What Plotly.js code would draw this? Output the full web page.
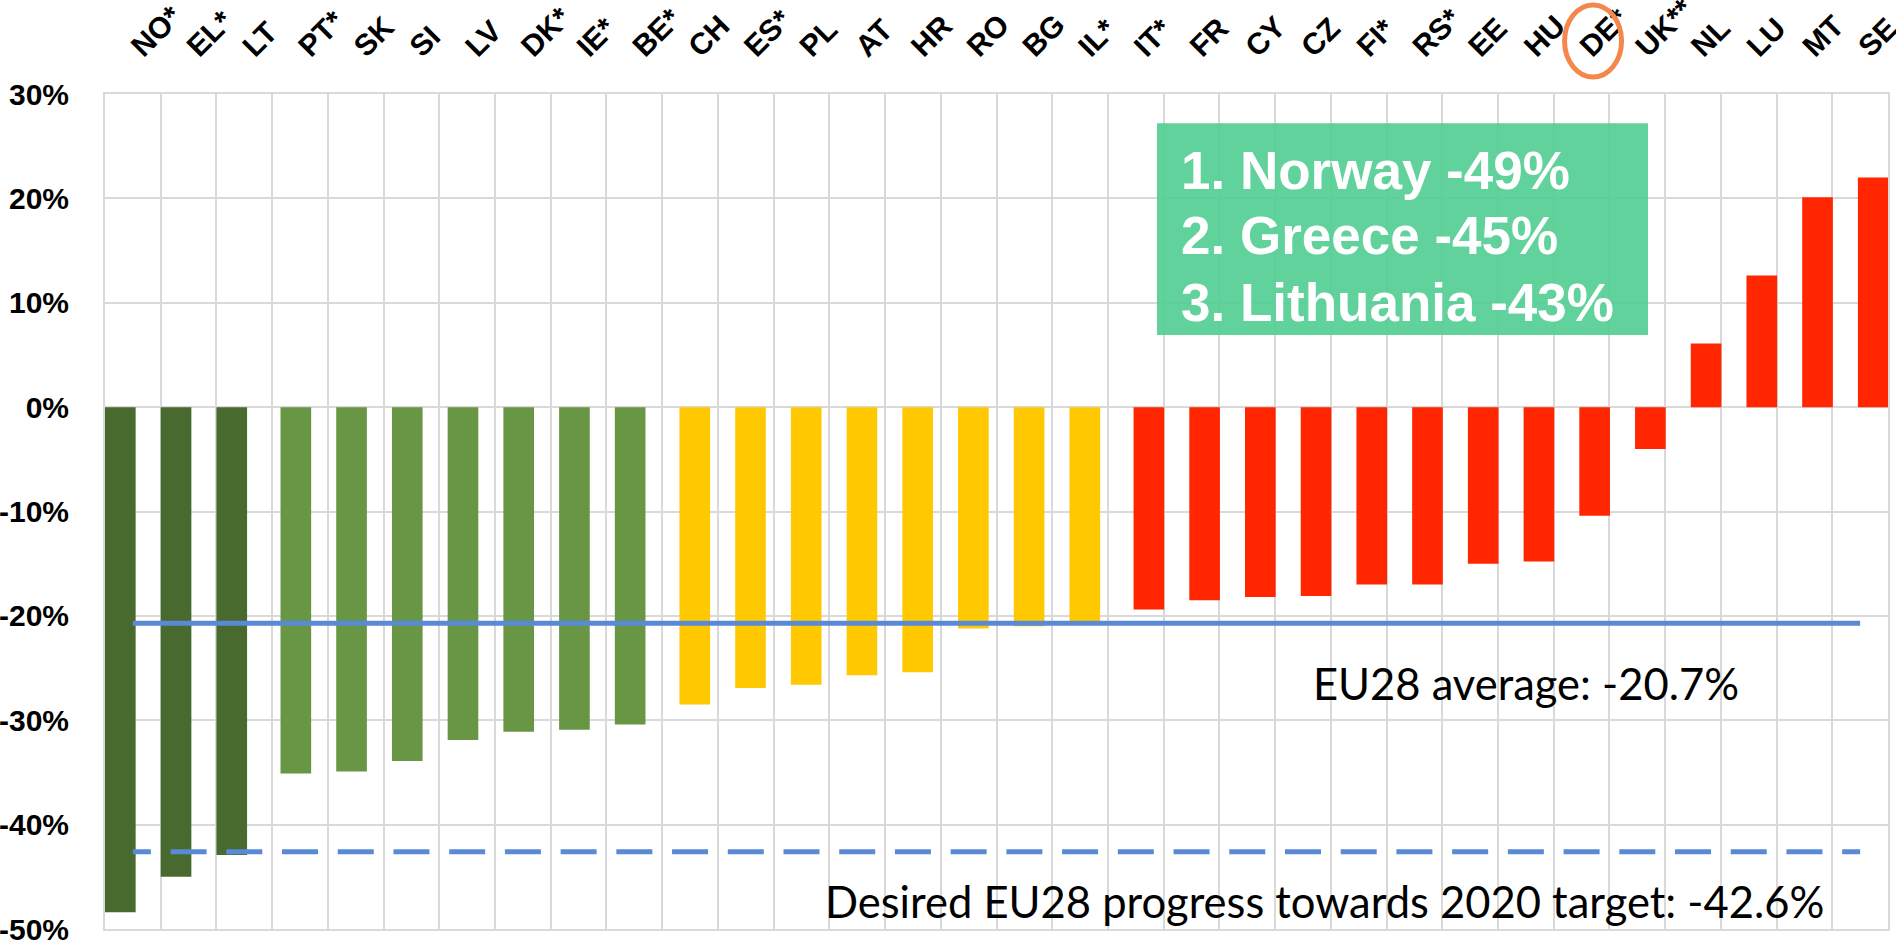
<!DOCTYPE html>
<html>
<head>
<meta charset="utf-8">
<script src="https://cdn.plot.ly/plotly-3.0.1.min.js"></script>
<style>
  html, body { margin: 0; padding: 0; background: #ffffff; }
  #chart { width: 1896px; height: 951px; }
</style>
</head>
<body>
<div id="chart"></div>
<script>
// ---- data ----
var categories = ["NO","EL","LT","PT","SK","SI","LV","DK","IE","BE","CH","ES","PL","AT","HR","RO","BG","IL","IT","FR","CY","CZ","FI","RS","EE","HU","DE","UK","NL","LU","MT","SE"];
var tickLabels = ["NO*","EL*","LT","PT*","SK","SI","LV","DK*","IE*","BE*","CH","ES*","PL","AT","HR","RO","BG","IL*","IT*","FR","CY","CZ","FI*","RS*","EE","HU","DE*","UK**","NL","LU","MT","SE"];
var values = [-48.4,-45.0,-42.9,-35.1,-34.9,-33.9,-31.9,-31.1,-30.9,-30.4,-28.5,-26.9,-26.6,-25.7,-25.4,-21.2,-21.0,-20.8,-19.4,-18.5,-18.2,-18.1,-17.0,-17.0,-15.0,-14.8,-10.4,-4.0,6.1,12.6,20.1,22.0];
var tiers = ["top","top","top","good","good","good","good","good","good","good","mid","mid","mid","mid","mid","mid","mid","mid","low","low","low","low","low","low","low","low","low","low","low","low","low","low"];
var yTickVals = [30, 20, 10, 0, -10, -20, -30, -40, -50];
var yTickLabels = ["30%","20%","10%","0%","-10%","-20%","-30%","-40%","-50%"];
var euAverage = -20.7;
var euTarget2020 = -42.6;
var rankingLines = ["1. Norway -49%","2. Greece -45%","3. Lithuania -43%"];
var averageLabel = "EU28 average: -20.7%";
var targetLabel = "Desired EU28 progress towards 2020 target: -42.6%";
var highlighted = "DE";

// ---- styles ----
var tierStyle = {
  top:  {color: "#486a2e", offset: -0.50},
  good: {color: "#689645", offset: -0.35},
  mid:  {color: "#ffc800", offset: -0.19},
  low:  {color: "#ff2600", offset: -0.04}
};
var barWidth = 0.55;
var lineColor = "#5a8ad6";

// dash pattern: dashes centred on each category centre (half dash at the start)
var catPx = (1896 - 105 - 8) / categories.length;
var dashLen = 36, gapLen = catPx - dashLen;
var dashParts = [(dashLen / 2) + "px", gapLen.toFixed(2) + "px"];
for (var k = 0; k < categories.length; k++) { dashParts.push(dashLen + "px", gapLen.toFixed(2) + "px"); }
var dashPattern = dashParts.join(",");

var traces = [];
Object.keys(tierStyle).forEach(function (t) {
  var xs = [], ys = [];
  categories.forEach(function (c, i) {
    if (tiers[i] === t) { xs.push(c); ys.push(values[i]); }
  });
  traces.push({
    type: "bar", x: xs, y: ys,
    width: barWidth, offset: tierStyle[t].offset,
    marker: {color: tierStyle[t].color, line: {width: 0}},
    hoverinfo: "x+y", showlegend: false
  });
});
var first = categories[0], last = categories[categories.length - 1];
traces.push({
  type: "scatter", mode: "lines", x: [first, last], y: [euAverage, euAverage],
  line: {color: lineColor, width: 5}, showlegend: false, hoverinfo: "skip"
});
traces.push({
  type: "scatter", mode: "lines", x: [first, last], y: [euTarget2020, euTarget2020],
  line: {color: lineColor, width: 5, dash: dashPattern}, showlegend: false, hoverinfo: "skip"
});

var boldArial = "Liberation Sans, Arial, sans-serif";

var annotations = [
  {xref: "paper", yref: "paper", x: 0.797, y: 0.2946, xanchor: "center", yanchor: "middle",
   showarrow: false, text: averageLabel,
   font: {family: "Lato, sans-serif", size: 43.5, color: "#000000"}},
  {xref: "paper", yref: "paper", x: 0.6837, y: 0.0335, xanchor: "center", yanchor: "middle",
   showarrow: false, text: targetLabel,
   font: {family: "Lato, sans-serif", size: 43.5, color: "#000000"}}
];
var rankY = [0.908, 0.830, 0.750];
rankingLines.forEach(function (txt, i) {
  annotations.push({xref: "paper", yref: "paper", x: 0.6025, y: rankY[i], xanchor: "left", yanchor: "middle",
    align: "left", showarrow: false, text: txt,
    font: {family: boldArial, size: 53, color: "#ffffff", weight: "bold"}});
});

var layout = {
  width: 1896, height: 951,
  margin: {l: 105, r: 8, t: 94, b: 22, pad: 0},
  paper_bgcolor: "#ffffff", plot_bgcolor: "#ffffff",
  barmode: "overlay",
  showlegend: false,
  xaxis: {
    type: "category", side: "top",
    categoryorder: "array", categoryarray: categories,
    tickvals: categories, ticktext: tickLabels,
    range: [-0.5, categories.length - 0.5],
    tickson: "boundaries", ticks: "",
    ticklabelstandoff: 17,
    showgrid: true, gridcolor: "#d9d9d9", gridwidth: 2,
    showline: true, linecolor: "#d9d9d9", linewidth: 2, mirror: true,
    tickangle: -45,
    tickfont: {family: boldArial, size: 30, color: "#000000", weight: "bold"},
    zeroline: false, fixedrange: true
  },
  yaxis: {
    range: [-50, 30],
    tickvals: yTickVals, ticktext: yTickLabels,
    ticks: "",
    ticklabelstandoff: 28,
    showgrid: true, gridcolor: "#d9d9d9", gridwidth: 2,
    zeroline: false,
    showline: true, linecolor: "#d9d9d9", linewidth: 2, mirror: true,
    tickfont: {family: boldArial, size: 30, color: "#000000", weight: "bold"},
    fixedrange: true
  },
  shapes: [
    {type: "rect", xref: "paper", yref: "paper", x0: 0.590, x1: 0.8654, y0: 0.7114, y1: 0.965,
     fillcolor: "rgba(80,205,145,0.9)", line: {width: 0}, layer: "above"},
    {type: "circle", xref: "x", yref: "paper",
     xsizemode: "pixel", xanchor: categories.indexOf(highlighted), x0: -17, x1: 40,
     ysizemode: "pixel", yanchor: 1, y0: 17, y1: 89,
     line: {color: "#f4874b", width: 5}, fillcolor: "rgba(0,0,0,0)"}
  ],
  annotations: annotations
};

Plotly.newPlot("chart", traces, layout, {displayModeBar: false, staticPlot: true});
</script>
</body>
</html>
